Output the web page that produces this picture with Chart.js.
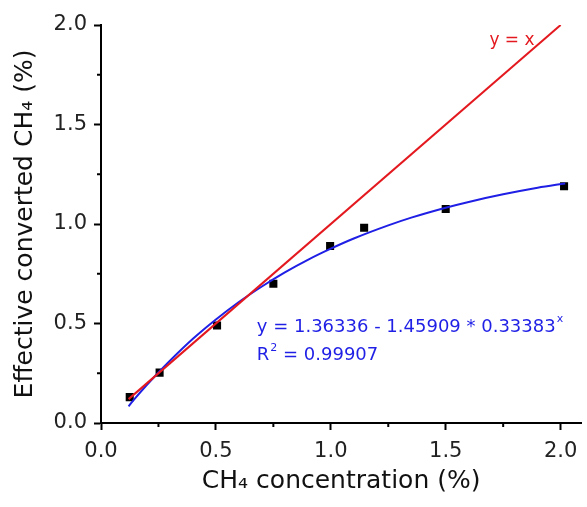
<!DOCTYPE html>
<html>
<head>
<meta charset="utf-8">
<script src="https://cdn.jsdelivr.net/npm/chart.js@4.4.1/dist/chart.umd.min.js"></script>
<style>
  html, body { margin: 0; padding: 0; background: #fff; }
  #wrap { width: 587px; height: 507px; }
</style>
</head>
<body>
<div id="wrap"><canvas id="myChart"></canvas></div>
<script>
// measured CH4 points
const concX = [0.125, 0.255, 0.505, 0.75, 0.997, 1.145, 1.5, 2.015];
const convY = [0.13, 0.253, 0.49, 0.70, 0.889, 0.981, 1.075, 1.19];

// fitted curve
const fitX = [0.12, 0.15, 0.2, 0.25, 0.3, 0.4, 0.5, 0.6, 0.7, 0.8, 0.9, 1.0, 1.1, 1.25, 1.35, 1.5, 1.6, 1.75, 1.9, 2.02];
const fitY = [0.084, 0.126, 0.192, 0.254, 0.313, 0.423, 0.520, 0.608, 0.686, 0.757, 0.820, 0.876, 0.927, 0.993, 1.032, 1.082, 1.111, 1.149, 1.182, 1.204];

// y = x reference line
const refX = [0.12, 2.0];
const refY = [0.12, 2.0];

const xTicks = [0, 0.5, 1.0, 1.5, 2.0];
const yTicks = [0, 0.5, 1.0, 1.5, 2.0];
const minorTicks = [0.25, 0.75, 1.25, 1.75];

const red = "#e3191f";
const blue = "#1f1fe6";
const font = "'DejaVu Sans', sans-serif";

const toPts = (xs, ys) => xs.map((v, i) => ({x: v, y: ys[i]}));

const extras = {
  id: "extras",
  afterDraw(chart) {
    const {ctx, scales: {x, y}} = chart;
    ctx.save();
    // minor ticks
    ctx.strokeStyle = "#000";
    ctx.lineWidth = 2;
    minorTicks.forEach(v => {
      const px = x.getPixelForValue(v);
      ctx.beginPath(); ctx.moveTo(px, y.bottom); ctx.lineTo(px, y.bottom + 4); ctx.stroke();
      const py = y.getPixelForValue(v);
      ctx.beginPath(); ctx.moveTo(x.left, py); ctx.lineTo(x.left - 4, py); ctx.stroke();
    });
    // labels
    ctx.textBaseline = "alphabetic";
    ctx.textAlign = "left";
    ctx.fillStyle = red;
    ctx.font = "17px " + font;
    ctx.fillText("y = x", x.getPixelForValue(1.69), y.getPixelForValue(1.90));
    ctx.fillStyle = blue;
    ctx.font = "18px " + font;
    const ex = x.getPixelForValue(0.678);
    const ey = y.getPixelForValue(0.457);
    const eq = "y = 1.36336 - 1.45909 * 0.33383";
    ctx.fillText(eq, ex, ey);
    const w = ctx.measureText(eq).width;
    ctx.font = "11px " + font;
    ctx.fillText("x", ex + w + 1, ey - 10);
    ctx.font = "18px " + font;
    const ry = y.getPixelForValue(0.317);
    ctx.fillText("R", ex, ry);
    const rw = ctx.measureText("R").width;
    ctx.font = "11px " + font;
    ctx.fillText("2", ex + rw + 1, ry - 9);
    ctx.font = "18px " + font;
    ctx.fillText(" = 0.99907", ex + rw + 8, ry);
    ctx.restore();
  }
};

new Chart("myChart", {
  type: "scatter",
  data: {
    datasets: [
      {
        data: toPts(refX, refY),
        showLine: true,
        borderColor: red,
        borderWidth: 2,
        pointRadius: 0
      },
      {
        data: toPts(fitX, fitY),
        showLine: true,
        borderColor: blue,
        borderWidth: 2,
        pointRadius: 0,
        cubicInterpolationMode: "monotone"
      },
      {
        data: toPts(concX, convY),
        backgroundColor: "#000",
        borderColor: "#000",
        pointStyle: "rect",
        pointRadius: 5.7,
        borderWidth: 0
      }
    ]
  },
  options: {
    responsive: true,
    maintainAspectRatio: false,
    animation: false,
    layout: { padding: { top: 25, right: 0, bottom: 0, left: 0 } },
    plugins: {
      legend: { display: false },
      tooltip: { enabled: false }
    },
    scales: {
      x: {
        type: "linear",
        min: 0,
        max: 2.09,
        afterBuildTicks: axis => { axis.ticks = xTicks.map(v => ({value: v})); },
        afterFit: axis => { axis.height = 84; },
        border: { color: "#000", width: 2 },
        grid: { drawOnChartArea: false, tickLength: 7, tickWidth: 2, tickColor: "#000" },
        ticks: {
          padding: 9,
          color: "#222",
          font: { family: font, size: 21 },
          callback: v => v.toFixed(1)
        },
        title: {
          display: true,
          text: "CH₄ concentration (%)",
          color: "#111",
          font: { family: font, size: 25 },
          padding: { top: 0, bottom: 11 }
        }
      },
      y: {
        min: 0,
        max: 2.0,
        afterBuildTicks: axis => { axis.ticks = yTicks.map(v => ({value: v})); },
        afterFit: axis => { axis.width = 101; },
        border: { color: "#000", width: 2 },
        grid: { drawOnChartArea: false, tickLength: 7, tickWidth: 2, tickColor: "#000" },
        ticks: {
          padding: 7,
          color: "#222",
          font: { family: font, size: 21 },
          callback: v => v.toFixed(1)
        },
        title: {
          display: true,
          text: "Effective converted CH₄ (%)",
          color: "#111",
          font: { family: font, size: 25 },
          padding: { top: 10, bottom: 0 }
        }
      }
    }
  },
  plugins: [extras]
});
</script>
</body>
</html>
